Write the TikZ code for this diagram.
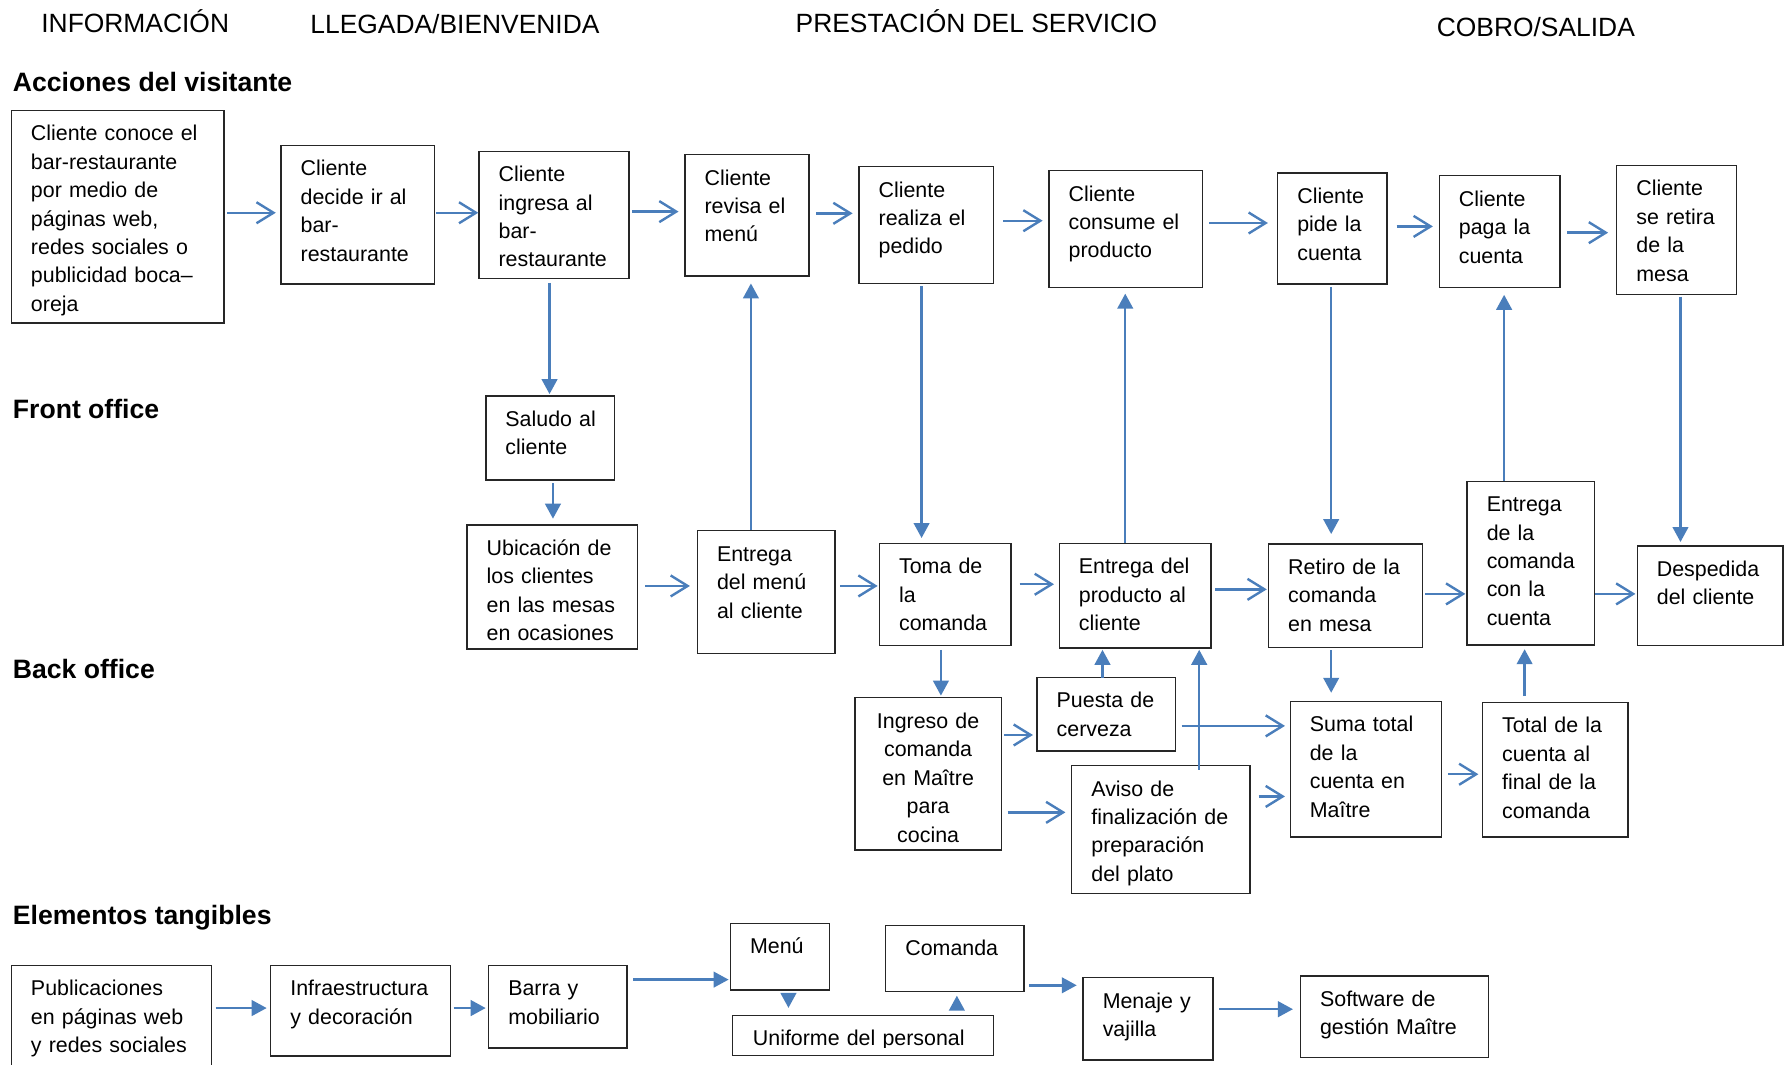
\documentclass[tikz,border=0pt]{standalone}
\usepackage{fontspec}
\setmainfont{Liberation Sans}
\usetikzlibrary{arrows.meta,fit,calc}
\definecolor{arrblue}{RGB}{74,126,187}
\newcommand\bxfont{\fontsize{10.7pt}{14.22pt}\selectfont}
\newcommand\hdfont{\fontsize{13.2pt}{15pt}\selectfont}
\newcommand\secfont{\fontsize{13.3pt}{15pt}\selectfont\bfseries}
\newcommand\boxonly[5]{%
  \node[boxst, fit={(#2,#3) (#4,#5)}] (#1) {};}
\newcommand\mybox[6]{%
  \node[boxst, fit={(#2,#3) (#4,#5)}] (#1) {};
  \node[txtst] (#1t) at ($(#1.north west)+(17.5,27.3)$) {#6};}
\tikzset{
  boxst/.style={draw=black!85, line width=0.7pt, inner sep=0pt},
  txtst/.style={inner sep=0pt, text width=200pt, align=left, font=\bxfont, anchor=base west},
  ctxt/.style={inner sep=0pt, text width=72pt, align=center, font=\bxfont, anchor=base},
  hd/.style={inner sep=0pt, font=\hdfont, anchor=base west},
  sec/.style={inner sep=0pt, font=\secfont, anchor=base west},
  sh/.style 2 args={shorten <=#1*0.5689pt, shorten >=#2*0.5689pt},
  oarr/.style={draw=arrblue, line width=1.2pt, -{Straight Barb[length=8.5pt,width=10.5pt]}},
  farr/.style={draw=arrblue, line width=1.2pt, -{Triangle[length=7.5pt,width=7.8pt]}},
}
\begin{document}
\begin{tikzpicture}[x=0.5689pt, y=-0.5689pt]
\useasboundingbox (0,0) rectangle (1568,936);

% headings
\node[hd] (h1) at (36,29) {INFORMACIÓN};
\node[hd] (h2) at (272.5,29.5) {LLEGADA/BIENVENIDA};
\node[hd] (h3) at (699,29) {PRESTACIÓN DEL SERVICIO};
\node[hd] (h4) at (1262.5,32) {COBRO/SALIDA};
\node[sec] (s1) at (11,80.5) {Acciones del visitante};
\node[sec] (s2) at (11,368) {Front office};
\node[sec] (s3) at (11,596.5) {Back office};
\node[sec] (s4) at (11,813) {Elementos tangibles};

% row: acciones del visitante
\mybox{A1}{10}{97}{197}{284}{Cliente conoce el\\bar-restaurante\\por medio de\\páginas  web,\\redes sociales o\\publicidad boca--\\oreja}
\mybox{A2}{247}{128}{382}{249.5}{Cliente\\decide ir al\\bar-\\restaurante}
\mybox{A3}{421}{133}{553}{245}{Cliente\\ingresa al\\bar-\\restaurante}
\mybox{A4}{602}{136}{711}{242.5}{Cliente\\revisa el\\menú}
\mybox{A5}{755}{146.5}{873}{249}{Cliente\\realiza el\\pedido}
\mybox{A6}{922}{150}{1057}{252.5}{Cliente\\consume el\\producto}
\mybox{A7}{1123}{152}{1219}{249.5}{Cliente\\pide la\\cuenta}
\mybox{A8}{1265}{154.5}{1371}{252.5}{Cliente\\paga la\\cuenta}
\mybox{A9}{1421}{145.5}{1526}{259}{Cliente\\se retira\\de la\\mesa}

% front office
\mybox{F1}{427}{348}{540}{422}{Saludo al\\cliente}
\mybox{F2}{410.5}{461.5}{560.5}{570.5}{Ubicación de\\los clientes\\en las mesas\\en ocasiones}
\mybox{F3}{613}{466.5}{734}{574.5}{Entrega\\del menú\\al cliente}
\mybox{F4}{773}{477.5}{888.5}{567.5}{Toma de\\la\\comanda}
\mybox{F5}{931}{477.5}{1064.5}{569.5}{Entrega del\\producto al\\cliente}
\mybox{F6}{1115}{478}{1250}{569}{Retiro de la\\comanda\\en mesa}
\mybox{F7}{1289.5}{423}{1401.5}{567}{Entrega\\de la\\comanda\\con la\\cuenta}
\mybox{F8}{1439}{480}{1567}{567.5}{Despedida\\del cliente}

% back office
\boxonly{B1}{751.5}{613}{880}{747}
\node[ctxt] (B1t) at (815.75,640.3) {Ingreso de\\comanda\\en Maître\\para\\cocina};
\mybox{B2}{911.5}{595.5}{1033}{660}{Puesta de\\cerveza}
\mybox{B3}{942}{673}{1098.5}{785.5}{Aviso de\\finalización de\\preparación\\del plato}
\mybox{B4}{1134}{616.5}{1267}{735.5}{Suma total\\de la\\cuenta en\\Maître}
\mybox{B5}{1303}{617.5}{1431}{735.5}{Total de la\\cuenta al\\final de la\\comanda}

% elementos tangibles
\mybox{T1}{10}{848.7}{186}{960}{Publicaciones\\en páginas web\\y redes sociales}
\mybox{T2}{238}{848.7}{396}{928}{Infraestructura\\y decoración}
\mybox{T3}{429.5}{848.7}{551}{921}{Barra y\\mobiliario}
\mybox{T4}{642}{811.5}{729}{870}{Menú}
\mybox{T5}{778.5}{813.5}{900}{871.5}{Comanda}
\boxonly{T6}{644}{892.5}{873}{927.8}
\begin{scope}
  \clip (644,892.5) rectangle (873,920.3);
  \node[txtst] (T6t) at ($(T6.north west)+(18,27.3)$) {Uniforme del personal};
\end{scope}
\mybox{T7}{952}{859.3}{1066}{931.5}{Menaje y\\vajilla}
\mybox{T8}{1143}{857.8}{1308}{929.5}{Software de\\gestión Maître}

% horizontal open arrows
\draw[oarr, sh={2}{4}] (A1.east |- 0,187) -- (A2.west |- 0,187);
\draw[oarr, sh={1}{0}] (A2.east |- 0,187) -- (A3.west |- 0,187);
\draw[oarr, sh={2}{5}] (A3.east |- 0,186) -- (A4.west |- 0,186);
\draw[oarr, sh={6}{5}] (A4.east |- 0,187.5) -- (A5.west |- 0,187.5);
\draw[oarr, sh={8}{5}] (A5.east |- 0,194) -- (A6.west |- 0,194);
\draw[oarr, sh={5}{8}] (A6.east |- 0,196) -- (A7.west |- 0,196);
\draw[oarr, sh={8}{5}] (A7.east |- 0,199) -- (A8.west |- 0,199);
\draw[oarr, sh={6}{7}] (A8.east |- 0,204.5) -- (A9.west |- 0,204.5);

\draw[oarr, sh={6}{6}] (F2.east |- 0,515) -- (F3.west |- 0,515);
\draw[oarr, sh={4}{1}] (F3.east |- 0,515) -- (F4.west |- 0,515);
\draw[oarr, sh={7}{4}] (F4.east |- 0,513.5) -- (F5.west |- 0,513.5);
\draw[oarr, sh={3}{1}] (F5.east |- 0,518) -- (F6.west |- 0,518);
\draw[oarr, sh={2}{1}] (F6.east |- 0,522) -- (F7.west |- 0,522);
\draw[oarr, sh={0}{1}] (F7.east |- 0,522) -- (F8.west |- 0,522);

\draw[oarr, sh={2}{3}] (B1.east |- 0,646) -- (B2.west |- 0,646);
\draw[oarr, sh={5}{5}] (B1.east |- 0,714) -- (B3.west |- 0,714);
\draw[oarr, sh={5}{4}] (B2.east |- 0,638) -- (B4.west |- 0,638);
\draw[oarr, sh={7}{4}] (B3.east |- 0,700) -- (B4.west |- 0,700);
\draw[oarr, sh={5}{3}] (B4.east |- 0,680.5) -- (B5.west |- 0,680.5);

% vertical filled arrows
\draw[farr, sh={3}{1}] (A3.south -| 483,0) -- (F1.north -| 483,0);
\draw[farr, sh={2}{5}] (F1.south -| 486,0) -- (F2.north -| 486,0);
\draw[farr, sh={0}{6}] (F3.north -| 660,0) -- (A4.south -| 660,0);
\draw[farr, sh={2}{4}] (A5.south -| 810,0) -- (F4.north -| 810,0);
\draw[farr, sh={0}{5}] (F5.north -| 989,0) -- (A6.south -| 989,0);
\draw[farr, sh={2}{8}] (A7.south -| 1170,0) -- (F6.north -| 1170,0);
\draw[farr, sh={0}{6}] (F7.north -| 1322,0) -- (A8.south -| 1322,0);
\draw[farr, sh={1}{3}] (A9.south -| 1477,0) -- (F8.north -| 1477,0);
\draw[farr, sh={3}{1}] (F4.south -| 827,0) -- (B1.north -| 827,0);
\draw[farr, sh={-1}{1}] (B2.north -| 969,0) -- (F5.south -| 969,0);
\draw[farr, sh={-4}{1}] (B3.north -| 1054,0) -- (F5.south -| 1054,0);
\draw[farr, sh={2}{7}] (F6.south -| 1170,0) -- (B4.north -| 1170,0);
\draw[farr, sh={5}{3}] (B5.north -| 1340,0) -- (F7.south -| 1340,0);

% tangible arrows
\draw[farr, sh={3}{3}] (T1.east |- 0,886) -- (T2.west |- 0,886);
\draw[farr, sh={2}{2}] (T2.east |- 0,886) -- (T3.west |- 0,886);
\draw[farr, sh={5}{1}] (T3.east |- 0,861) -- (T4.west |- 0,861);
\draw[farr, sh={4}{5}] (T5.east |- 0,866) -- (T7.west |- 0,866);
\draw[farr, sh={5}{6}] (T7.east |- 0,887) -- (T8.west |- 0,887);
\draw[farr, sh={3}{6}] (T4.south -| 693,0) -- (T6.north -| 693,0);
\draw[farr, sh={6}{3}] (T6.north -| 841,0) -- (T5.south -| 841,0);
\end{tikzpicture}
\end{document}
